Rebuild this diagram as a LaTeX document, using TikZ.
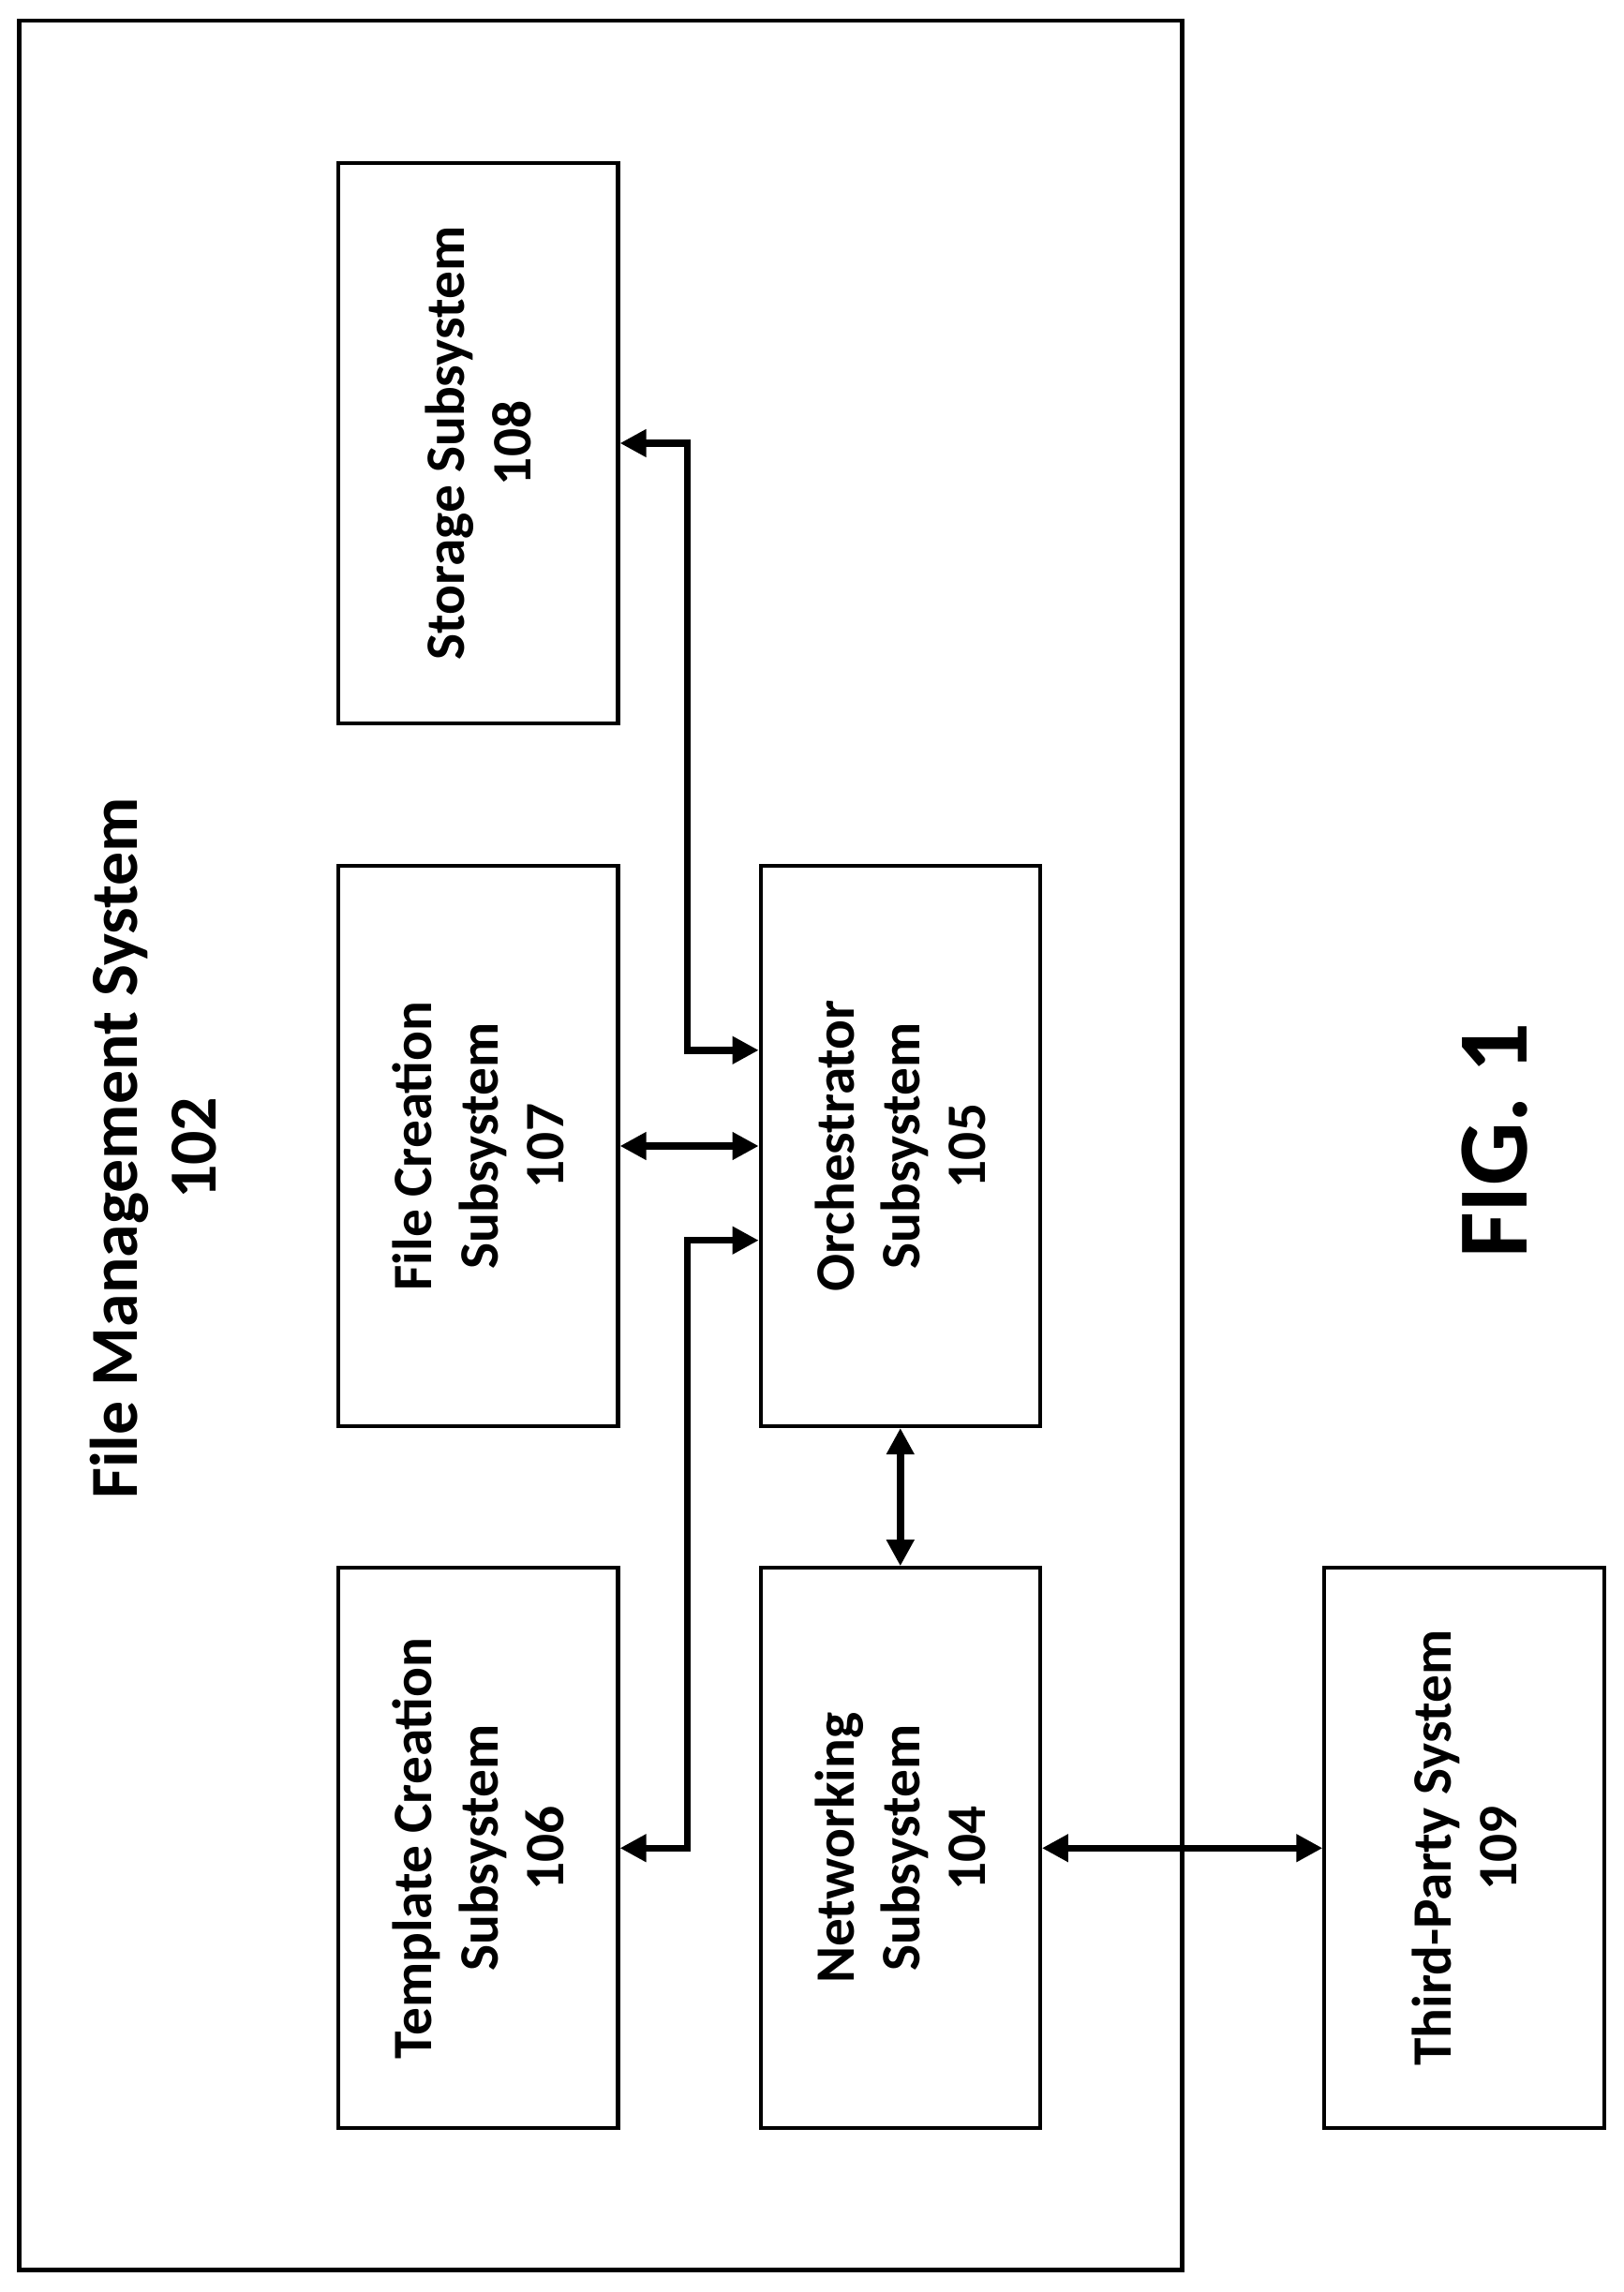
\documentclass[tikz,border=0pt]{standalone}
\usepackage{fontspec}
\setmainfont{Carlito}
\usetikzlibrary{arrows.meta}
\tikzset{every picture/.style={line width=1pt}}
\tikzset{
  blk/.style={draw, line width=1.3pt, minimum width=95.5pt, minimum height=191.5pt, inner sep=0pt},
  lbl/.style={rotate=90, align=center, font=\fontsize{19}{22.5}\selectfont\bfseries},
  link/.style={line width=2.4pt, {Triangle[length=9pt,width=9pt]}-{Triangle[length=9pt,width=9pt]}}
}
\begin{document}
\begin{tikzpicture}[x=0.5pt,y=0.5pt,yscale=-1]
	\useasboundingbox (0,0) rectangle (1110,1567);

	% outer frame
	\draw [line width=1.5pt] (13,14) rectangle (808,1552);
	\node (fms) [lbl, font=\fontsize{23}{27}\selectfont\bfseries] at (105,785) {File Management System\\102};

	% blocks
	\node (stor) [blk] at (327,303) {};
	\node (fcs) [blk] at (327,783.5) {};
	\node (tcs) [blk] at (327,1263.5) {};
	\node (orch) [blk] at (615.5,783.5) {};
	\node (net) [blk] at (615.5,1263.5) {};
	\node (tps) [blk] at (1001,1263.5) {};

	\node [lbl] at (stor) {Storage Subsystem\\108};
	\node [lbl] at (fcs) {File Creation\\Subsystem\\107};
	\node [lbl] at (tcs) {Template Creation\\Subsystem\\106};
	\node [lbl] at (orch) {Orchestrator\\Subsystem\\105};
	\node [lbl] at (net) {Networking\\Subsystem\\104};
	\node [lbl] at (tps) {Third-Party System\\109};

	\node (fig) [rotate=90, font=\fontsize{34}{40}\selectfont\bfseries] at (1022,780) {FIG. 1};

	% connectors
	\coordinate (orchA) at ([yshift=32.5pt]orch.north west);
	\coordinate (orchB) at ([yshift=-32.5pt]orch.south west);
	\draw [link] (stor.east) -| (470,718) -- (orch.west |- 0,718);
	\draw [link] (fcs.east) -- (orch.west);
	\draw [link] (tcs.east) -| (470,848) -- (orch.west |- 0,848);
	\draw [link] (orch.south) -- (net.north);
	\draw [link] (net.east) -- (tps.west);
\end{tikzpicture}
\end{document}
